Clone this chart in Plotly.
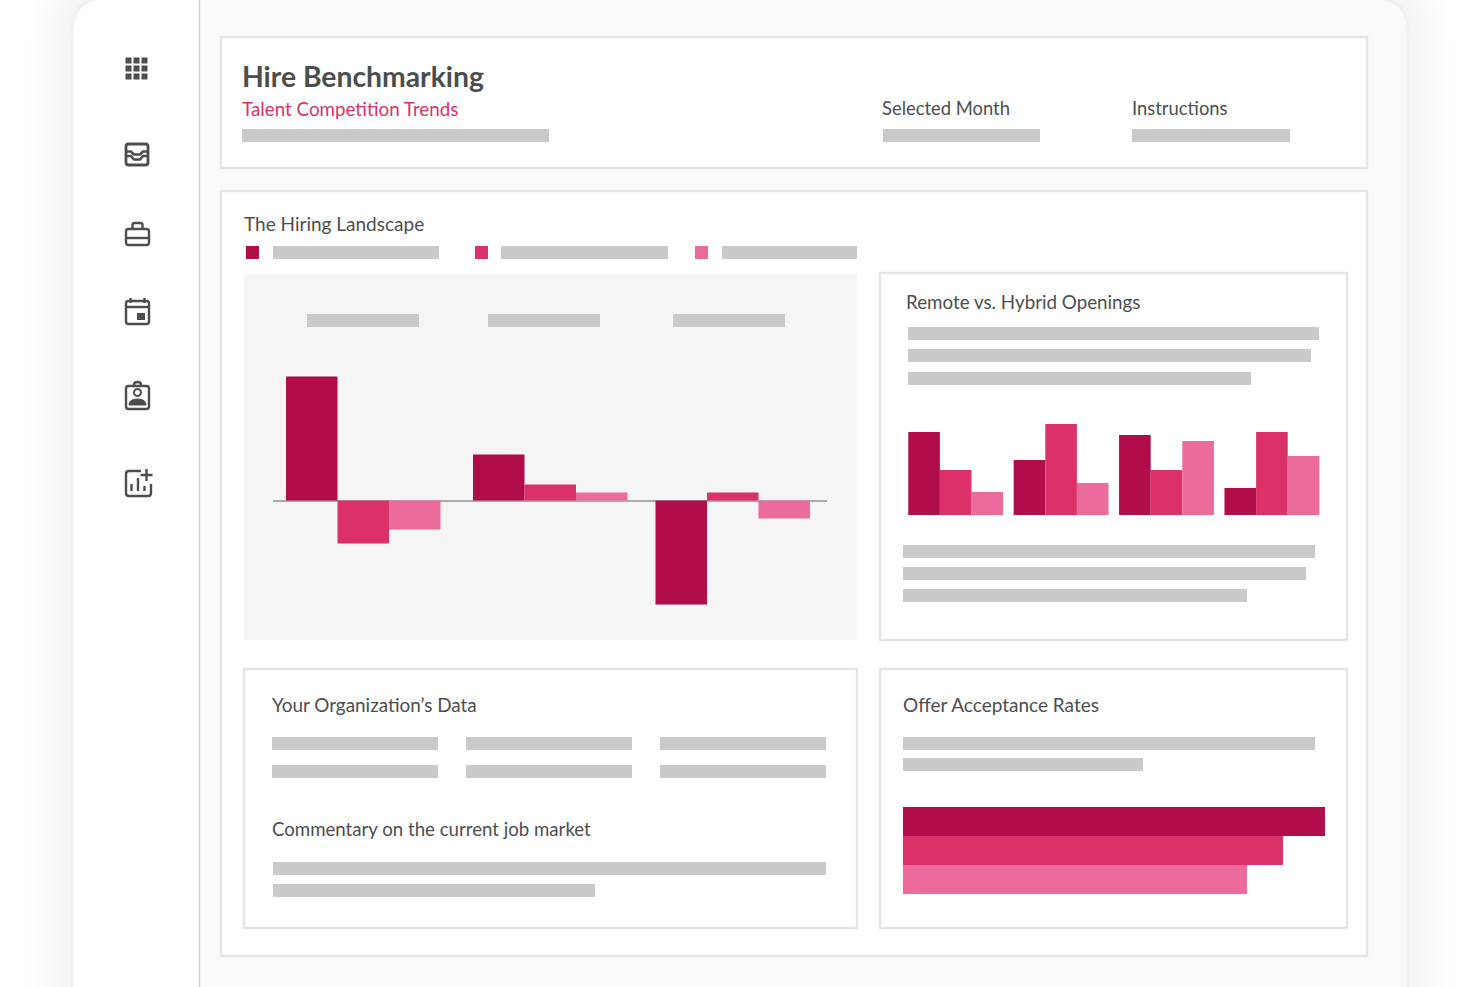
import plotly.graph_objects as go

# colours
DARK = '#B00D4A'
MID = '#DC3069'
LIGHT = '#EB6C9C'
GREY = '#C8CACA'
BORDER = '#E4E6E6'
TEXT = '#4C4E4E'
FONT = 'Lato'

# The Hiring Landscape
landscape_x = [363, 550, 732.5]
landscape_a = [124, 46, -104]
landscape_b = [-43, 16, 8]
landscape_c = [-29, 8, -18]

# Remote vs. Hybrid Openings
remote_cats = ['A', 'B', 'C', 'D']
remote_a = [83, 55, 80, 27]
remote_b = [45, 91, 45, 83]
remote_c = [23, 32, 74, 59]

# Offer Acceptance Rates
offer_cats = ['one', 'two', 'three']
offer_vals = [422, 380, 344]

W, H = 1480, 987

####################################

def dom_x(x0, x1):
    return [x0 / W, x1 / W]

def dom_y(y0, y1):
    return [1 - y1 / H, 1 - y0 / H]

def rect(x0, y0, x1, y1, fill=GREY, line=None, width=0):
    return dict(type='rect', xref='x', yref='y', x0=x0, y0=y0, x1=x1, y1=y1, layer='below',
                fillcolor=fill, line=dict(color=line or fill, width=width))

def path(d, fill='rgba(0,0,0,0)', line=TEXT, width=2.4):
    return dict(type='path', xref='x', yref='y', path=d, layer='below',
                fillcolor=fill, line=dict(color=line, width=width))

def label(x, y, txt, size=19, color=TEXT, weight=400):
    return dict(xref='x', yref='y', x=x, y=y, text=txt, showarrow=False, xanchor='left', yanchor='middle',
                font=dict(family=FONT, size=size, color=color, weight=weight))

def rounded(x0, y0, x1, y1, r):
    return (f'M{x0},{y0 + r} Q{x0},{y0} {x0 + r},{y0} L{x1 - r},{y0} Q{x1},{y0} {x1},{y0 + r} '
            f'L{x1},{y1 - r} Q{x1},{y1} {x1 - r},{y1} L{x0 + r},{y1} Q{x0},{y1} {x0},{y1 - r} Z')

def frame(x0, x1, top, r):
    return f'M{x0},1040 L{x0},{top + r} Q{x0},{top} {x0 + r},{top} L{x1 - r},{top} Q{x1},{top} {x1},{top + r} L{x1},1040 Z'

shapes = []

# soft shadow round the device frame
for grow in range(42, 0, -4):
    shapes.append(path(frame(72 - grow, 1408 + grow, -grow, 36 + grow), fill='rgba(0,0,0,0.003)', line='rgba(0,0,0,0)', width=0))

# device frame
shapes.append(path(frame(72, 1408, -2, 34), fill='#FAFAFA', line='#F0F1F1', width=3))
shapes.append(path('M73.5,1040 L73.5,32 Q73.5,-0.5 106,-0.5 L199,-0.5 L199,1040 Z', fill='white', line='rgba(0,0,0,0)', width=0))
shapes.append(dict(type='line', xref='x', yref='y', x0=199.5, x1=199.5, y0=0, y1=987, layer='below',
                   line=dict(color='#D4D6D6', width=1.6)))

# panels
for p in [(221, 37, 1367, 168), (221, 191, 1367, 956), (880, 273, 1347, 640), (244, 669, 857, 928), (880, 669, 1347, 928)]:
    shapes.append(rect(*p, fill='white', line=BORDER, width=2.5))
shapes.append(rect(244, 274, 857, 640, fill='#F5F5F5'))

# placeholder text bars
placeholders = [
    (242, 129, 549), (883, 129, 1040), (1132, 129, 1290),
    (273, 246, 439), (501, 246, 668), (722, 246, 857),
    (307, 314, 419), (488, 314, 600), (673, 314, 785),
    (908, 327, 1319), (908, 349, 1311), (908, 372, 1251),
    (903, 545, 1315), (903, 567, 1306), (903, 589, 1247),
    (272, 737, 438), (466, 737, 632), (660, 737, 826),
    (272, 765, 438), (466, 765, 632), (660, 765, 826),
    (273, 862, 826), (273, 884, 595),
    (903, 737, 1315), (903, 758, 1143),
]
for x0, y0, x1 in placeholders:
    shapes.append(rect(x0, y0, x1, y0 + 13))

# legend squares
for x0, c in [(246, DARK), (475, MID), (695, LIGHT)]:
    shapes.append(rect(x0, 246, x0 + 13, 259, fill=c))

# sidebar icons
for cx in (128.5, 136.5, 144.5):
    for cy in (60.5, 68.5, 76.5):
        shapes.append(rect(cx - 3, cy - 3, cx + 3, cy + 3, fill=TEXT))

# inbox, two trays
shapes.append(path(rounded(126, 144, 148, 165, 2.5), width=2.8))
shapes.append(path('M126,151.5 L131,151.5 L134,154.5 L140,154.5 L143,151.5 L148,151.5', width=2.6))
shapes.append(path('M126,156 L131,156 L134,159.5 L140,159.5 L143,156 L148,156', width=2.6))

# briefcase
shapes.append(path(rounded(126, 229, 149, 245, 2.5)))
shapes.append(path('M126,238 L149,238'))
shapes.append(path('M132.5,229 L132.5,225 Q132.5,223 134.5,223 L140.5,223 Q142.5,223 142.5,225 L142.5,229'))

# calendar
shapes.append(path(rounded(126, 301, 149, 324, 2.5)))
shapes.append(path('M126,307 L149,307'))
shapes.append(path('M130.5,298 L130.5,303 M144.5,298 L144.5,303'))
shapes.append(rect(137, 313, 145, 320, fill=TEXT))

# contact card
shapes.append(path(rounded(126, 386, 149, 409, 2.5)))
shapes.append(path('M134,385 Q134,382 137.5,382 Q141,382 141,385'))
shapes.append(dict(type='circle', xref='x', yref='y', x0=134, y0=389, x1=141, y1=396, layer='below',
                   fillcolor='white', line=dict(color=TEXT, width=2)))
shapes.append(path('M129,405 Q129,399 137.5,399 Q146,399 146,405 Z', fill=TEXT, line=TEXT, width=1))

# chart with plus
shapes.append(path('M141,471 L129,471 Q126,471 126,474 L126,493 Q126,496 129,496 L148,496 Q151,496 151,493 L151,484'))
shapes.append(path('M131.5,484 L131.5,491 M138,478 L138,491 M144.5,486 L144.5,491'))
shapes.append(path('M146.5,469 L146.5,481 M140.5,475 L152.5,475'))

annotations = [
    label(240, 76, 'Hire Benchmarking', size=28.3, weight=700),
    label(240, 108, 'Talent Competition Trends', size=18.8, color=MID),
    label(880, 108, 'Selected Month', size=18.4),
    label(1130, 108, 'Instructions', size=18.4),
    label(242, 223, 'The Hiring Landscape', size=19),
    label(904, 301, 'Remote vs. Hybrid Openings', size=18.8),
    label(270, 704, 'Your Organization’s Data', size=18.9),
    label(270, 829, 'Commentary on the current job market', size=18.65),
    label(901, 704, 'Offer Acceptance Rates', size=19),
]

fig = go.Figure()

# empty trace so the pixel axes exist
fig.add_trace(go.Scatter(x=[], y=[], xaxis='x', yaxis='y', showlegend=False))

offsets = [-77, -25.5, 26]
for vals, c, off in zip([landscape_a, landscape_b, landscape_c], [DARK, MID, LIGHT], offsets):
    fig.add_trace(go.Bar(x=landscape_x, y=vals, width=51.5, offset=off, marker=dict(color=c, line=dict(width=0)),
                         xaxis='x2', yaxis='y2', showlegend=False))

for vals, c in zip([remote_a, remote_b, remote_c], [DARK, MID, LIGHT]):
    fig.add_trace(go.Bar(x=remote_cats, y=vals, marker=dict(color=c, line=dict(width=0)),
                         xaxis='x3', yaxis='y3', showlegend=False))

fig.add_trace(go.Bar(x=offer_vals, y=offer_cats, orientation='h', marker=dict(color=[DARK, MID, LIGHT], line=dict(width=0)),
                     xaxis='x4', yaxis='y4', showlegend=False))

hidden = dict(showgrid=False, zeroline=False, showticklabels=False, ticks='', showline=False, fixedrange=True)

fig.update_layout(
    width=W, height=H, autosize=False,
    margin=dict(l=0, r=0, t=0, b=0, pad=0),
    paper_bgcolor='white', plot_bgcolor='rgba(0,0,0,0)',
    barmode='group', showlegend=False,
    shapes=shapes, annotations=annotations,
    xaxis=dict(domain=[0, 1], range=[0, W], **hidden),
    yaxis=dict(domain=[0, 1], range=[H, 0], **hidden),
    xaxis2=dict(domain=dom_x(273, 827), range=[273, 827], anchor='y2', **hidden),
    yaxis2=dict(domain=dom_y(350.5, 630.5), range=[-130, 150], anchor='x2',
                showgrid=False, showticklabels=False, ticks='', showline=False, fixedrange=True,
                zeroline=True, zerolinecolor='#A9ABAB', zerolinewidth=2),
    xaxis3=dict(domain=dom_x(903, 1324.6), anchor='y3', **hidden),
    yaxis3=dict(domain=dom_y(415, 515), range=[0, 100], anchor='x3', **hidden),
    xaxis4=dict(domain=dom_x(903, 1325), range=[0, 422], anchor='y4', **hidden),
    yaxis4=dict(domain=dom_y(807, 894), autorange='reversed', anchor='x4', **hidden),
    bargap=0.1,
)
# bars in the offer chart touch, the remote chart keeps its gap
fig.data[-1].width = 1

fig.write_html('out.html', config={'displayModeBar': False},
               post_script="document.body.style.margin='0';document.body.style.overflow='hidden';")
